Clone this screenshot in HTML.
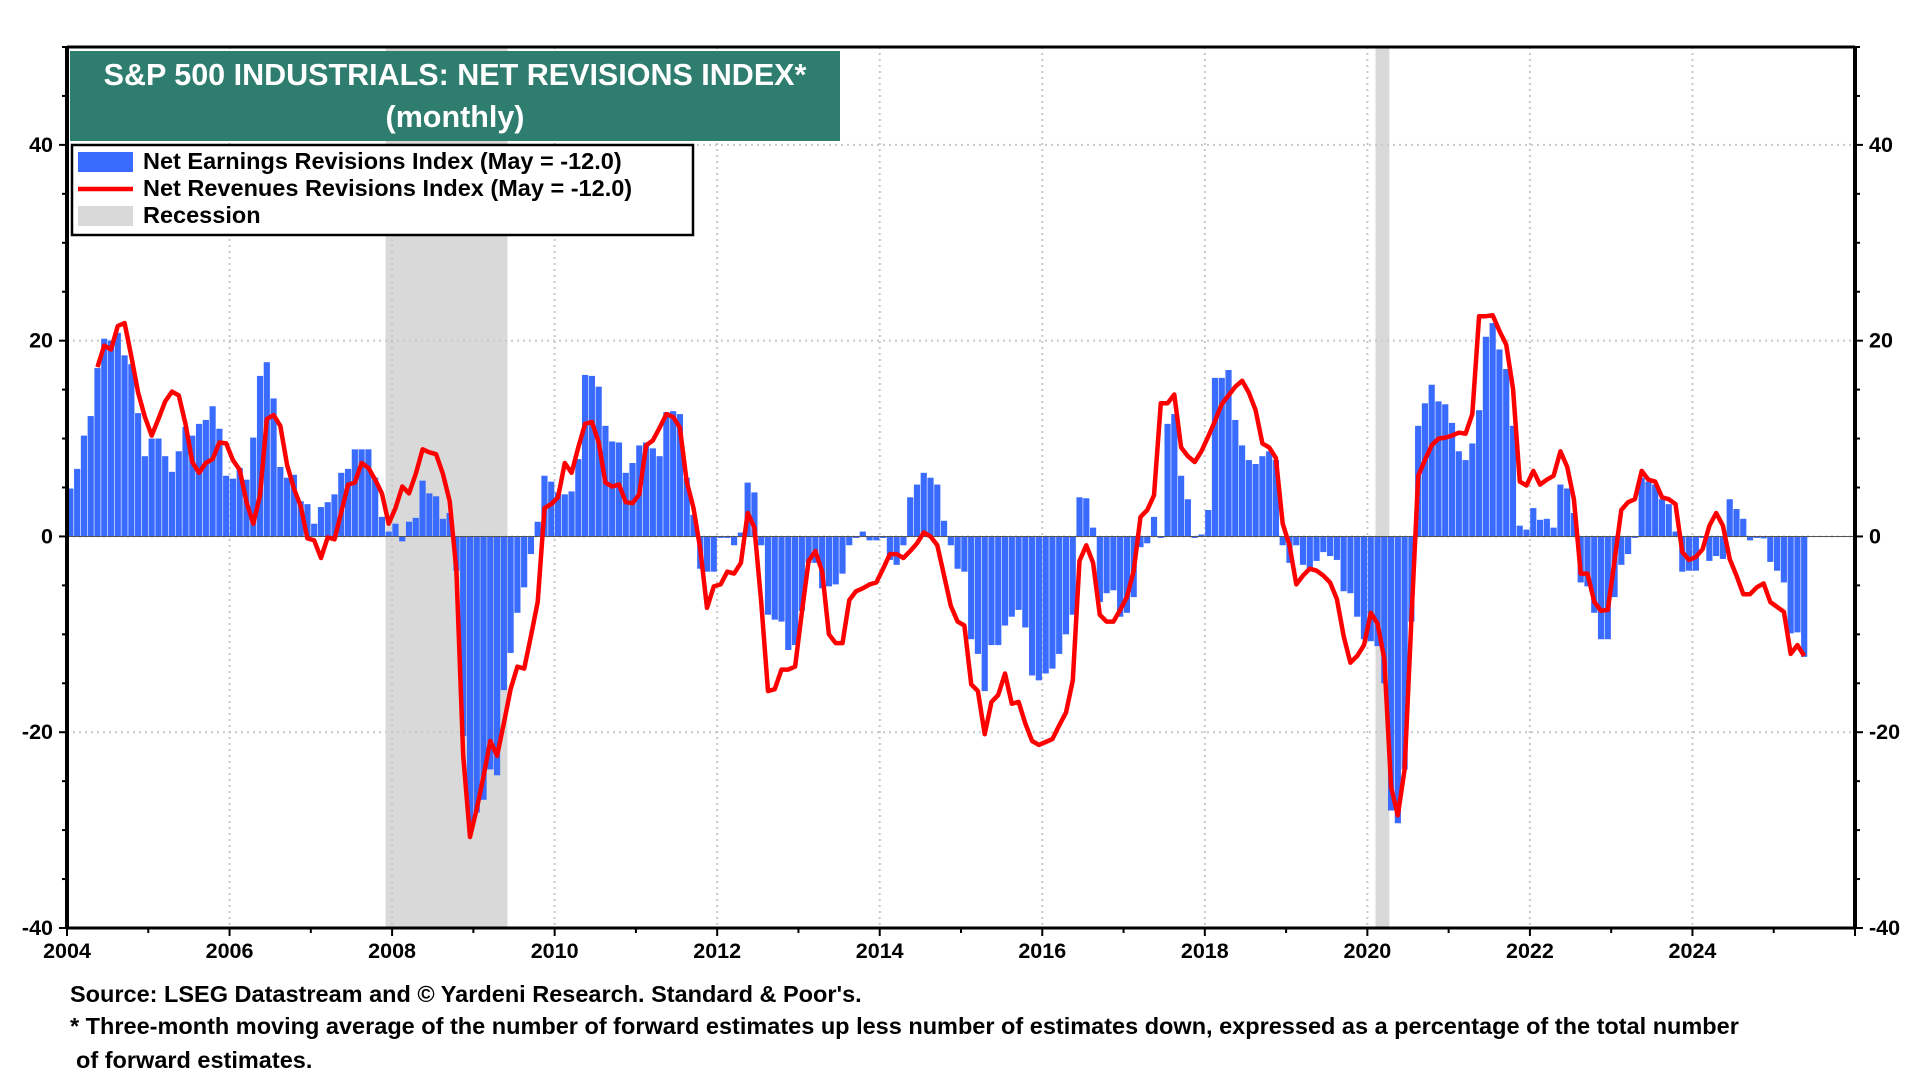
<!DOCTYPE html>
<html><head><meta charset="utf-8"><style>
html,body{margin:0;padding:0;background:#fff}
svg text{font-family:"Liberation Sans",Arial,sans-serif;font-weight:bold}
</style></head><body>
<svg id="chart" width="1920" height="1080" viewBox="0 0 1920 1080" xmlns="http://www.w3.org/2000/svg">
<g id="bg"></g><g id="grid"></g><g id="bars"></g><g id="lineg"></g><g id="axes"></g>
<g>
<rect x="70" y="51" width="770" height="90" fill="#2E7D6E"/>
<text x="455" y="85" fill="#fff" font-size="30.5" text-anchor="middle">S&amp;P 500 INDUSTRIALS: NET REVISIONS INDEX*</text>
<text x="455" y="127" fill="#fff" font-size="30.5" text-anchor="middle">(monthly)</text>
</g>
<g>
<rect x="72" y="145" width="621" height="90" fill="#fff" stroke="#000" stroke-width="2.5"/>
<g><rect x="78" y="152" width="55" height="20" fill="#3a6bff"/><text x="143" y="169" font-size="23.5">Net Earnings Revisions Index (May  = -12.0)</text></g>
<g><line x1="78" y1="189" x2="133" y2="189" stroke="#f00" stroke-width="4.5"/><text x="143" y="196" font-size="23.5">Net Revenues Revisions Index (May  = -12.0)</text></g>
<g><rect x="78" y="206" width="55" height="20" fill="#d9d9d9"/><text x="143" y="223" font-size="23.5">Recession</text></g>
</g>
<text x="70" y="1002" font-size="23.5">Source: LSEG Datastream and © Yardeni Research. Standard &amp; Poor's.</text>
<text x="70" y="1034" font-size="23.5">* Three-month moving average of the number of forward estimates up less number of estimates down, expressed as a percentage of the total number</text>
<text x="76" y="1068" font-size="23.5">of forward estimates.</text>
</svg>
<script>
const earnings = [
4.9,6.9,10.3,12.3,17.2,20.2,20,20.8,18.5,17.6,12.6,8.2,
10,10,8.2,6.6,8.7,11.2,10.3,11.5,11.9,13.3,11,6.2,
5.9,7,5.8,10.1,16.4,17.8,14.1,7.1,6,6.3,3.6,3.3,
1.3,3,3.5,4.3,6.5,6.9,8.9,8.9,8.9,6,2,0.5,
1.3,-0.5,1.5,1.9,5.7,4.4,4.1,1.8,2.4,-3.5,-20.4,-29.3,
-28.2,-26.9,-23.8,-24.4,-15.7,-11.9,-7.8,-5.2,-1.8,1.5,6.2,5.6,
4.5,4.3,4.6,7.9,16.5,16.4,15.3,11.3,9.7,9.6,6.5,7.5,
9.3,9.6,9,8.2,12.7,12.8,12.5,6,2.2,-3.3,-3.6,-3.6,
0,0,-0.9,0.4,5.5,4.5,-0.9,-8,-8.5,-8.7,-11.6,-11.1,
-7.6,-2.7,-2.7,-5.3,-5.1,-4.9,-3.8,-0.9,0,0.5,-0.4,-0.4,
0,-2.4,-2.9,-0.9,4,5.3,6.5,6,5.3,1.6,-0.9,-3.3,
-3.6,-10.5,-12,-15.8,-11.1,-11.1,-9.1,-8.2,-7.5,-9.3,-14.2,-14.7,
-14,-13.5,-12,-10,-8,4,3.9,0.9,-6.7,-5.8,-5.5,-8.2,
-7.8,-6.2,-1.1,-0.7,2,0,11.5,12.5,6.2,3.8,0,0.2,
2.7,16.2,16.2,17,11.9,9.3,7.8,7.4,8.2,8.7,7.8,-0.9,
-2.7,-0.9,-2.9,-3.3,-2.5,-1.6,-2,-2.4,-5.6,-5.8,-8.2,-10.5,
-10.7,-11.2,-15,-28,-29.3,-23.8,-8.7,11.3,13.6,15.5,13.8,13.5,
11.6,8.7,7.8,9.5,12.9,20.4,21.8,19.1,17.1,11.3,1.1,0.7,
2.9,1.7,1.8,0.9,5.3,4.9,2.4,-4.7,-5.1,-7.8,-10.5,-10.5,
-6.2,-2.9,-1.8,0,6,5.6,5.3,3.8,3.3,0.5,-3.6,-3.5,
-3.5,0,-2.5,-2,-2.3,3.8,2.8,1.8,-0.4,0,-0.2,-2.6,
-3.5,-4.7,-9.9,-9.8,-12.3];
const revenuesStartMonth = 4; // May 2004
const revenues = [
17.3,19.5,19.1,21.5,21.8,18.4,14.7,12.2,
10.3,12,13.8,14.8,14.4,11.5,7.6,6.5,7.5,7.9,9.6,9.5,
7.8,6.8,3.5,1.3,4.2,12,12.4,11.3,7.3,4.9,3.1,-0.2,
-0.4,-2.2,-0.1,-0.3,2.5,5.3,5.5,7.5,7,5.8,4.4,1.3,
2.9,5.1,4.4,6.4,8.9,8.6,8.4,6.4,3.6,-3.5,-22.4,-30.7,
-27.8,-24.5,-20.9,-22.4,-19.1,-15.6,-13.3,-13.5,-10.2,-6.7,2.9,3.3,
4,7.5,6.5,9.1,11.5,11.7,9.6,5.5,5.1,5.3,3.5,3.4,
4.3,9.3,9.8,11.1,12.5,12.2,11.1,5.6,2.9,-1.3,-7.3,-5.1,
-4.9,-3.6,-3.8,-2.7,2.4,0.9,-6.7,-15.8,-15.6,-13.6,-13.6,-13.3,
-7.8,-2.5,-1.5,-3.6,-10,-10.9,-10.9,-6.5,-5.6,-5.3,-4.9,-4.7,
-3.3,-1.8,-1.8,-2.2,-1.5,-0.7,0.4,0,-0.9,-4,-7.1,-8.7,
-9.1,-15.1,-15.8,-20.2,-16.9,-16.2,-14,-17.1,-16.9,-19.1,-20.9,-21.3,
-21,-20.7,-19.3,-18,-14.7,-2.5,-0.9,-2.7,-8,-8.7,-8.7,-7.5,
-6.2,-3.5,2,2.7,4.2,13.6,13.6,14.5,9.1,8.2,7.6,8.7,
10.2,11.8,13.5,14.4,15.3,15.9,14.7,12.9,9.5,9.1,8,1.3,
-0.9,-4.9,-4,-3.3,-3.5,-4,-4.7,-6.4,-10.2,-12.9,-12.2,-11.1,
-7.8,-8.9,-12.5,-25.6,-28.5,-23.8,-8.5,6.2,7.8,9.3,10,10.1,
10.3,10.6,10.5,12.5,22.5,22.5,22.6,21,19.6,15.1,5.6,5.2,
6.7,5.3,5.8,6.2,8.7,7.1,3.8,-3.8,-3.8,-6.7,-7.6,-7.5,
-2.4,2.7,3.5,3.8,6.7,5.8,5.6,4,3.8,3.3,-1.6,-2.4,
-2.1,-1.3,1.1,2.4,1.1,-2.3,-4,-5.9,-5.9,-5.2,-4.8,-6.7,
-7.2,-7.7,-12,-11.1,-12.2];
const recessions = [[2007.92,2009.42],[2020.1,2020.27]];
const yTicks = [-40,-20,0,20,40];
const xTicks = [2004,2006,2008,2010,2012,2014,2016,2018,2020,2022,2024];

const L=67,R=1855,T=47,B=928,X0=2004,X1=2026,Y0=-40,Y1=50;
const NS="http://www.w3.org/2000/svg";
const xs=v=>L+(v-X0)/(X1-X0)*(R-L);
const ys=v=>B-(v-Y0)/(Y1-Y0)*(B-T);
const mx=i=>xs(X0+(i+0.5)/12);
function mk(tag,attrs,parent){const e=document.createElementNS(NS,tag);for(const k in attrs)e.setAttribute(k,attrs[k]);parent.appendChild(e);return e;}
const bg=document.getElementById('bg'),grid=document.getElementById('grid'),bars=document.getElementById('bars'),lg=document.getElementById('lineg'),ax=document.getElementById('axes');
recessions.forEach(r=>{const e=mk('rect',{x:xs(r[0]),y:T,width:xs(r[1])-xs(r[0]),height:B-T,fill:'#d9d9d9'},bg);

});
yTicks.forEach(v=>{if(v===Y0)return;const e=mk('line',{x1:L,x2:R,y1:ys(v),y2:ys(v),stroke:'#c8c8c8','stroke-width':2,'stroke-dasharray':'2,4'},grid);

});
xTicks.forEach(v=>{if(v===X0)return;const e=mk('line',{x1:xs(v),x2:xs(v),y1:T,y2:B,stroke:'#c8c8c8','stroke-width':2,'stroke-dasharray':'2,4'},grid);

});
const bw=(R-L)/(X1-X0)/12;
earnings.forEach((v,i)=>{const y=Math.min(ys(v),ys(0));const h=Math.max(Math.abs(ys(v)-ys(0)),1.5);
const e=mk('rect',{x:mx(i)-bw/2+0.3,y:y,width:bw-0.6,height:h,fill:'#3a6bff'},bars);

});
const z=mk('line',{x1:L,x2:R,y1:ys(0),y2:ys(0),stroke:'#555','stroke-width':1},bars);


const pts=revenues.map((v,i)=>mx(i+revenuesStartMonth).toFixed(1)+','+ys(v).toFixed(1)).join(' ');
const pl=mk('polyline',{points:pts,fill:'none',stroke:'#ff0000','stroke-width':4.5,'stroke-linejoin':'round'},lg);


mk('line',{x1:L,x2:R,y1:T,y2:T,stroke:'#000','stroke-width':3},ax);
mk('line',{x1:L,x2:R,y1:B,y2:B,stroke:'#000','stroke-width':3},ax);
mk('line',{x1:L,x2:L,y1:T,y2:B,stroke:'#000','stroke-width':4},ax);
mk('line',{x1:R,x2:R,y1:T,y2:B,stroke:'#000','stroke-width':4},ax);
for(let v=Y0;v<=Y1;v+=5){const big=v%20===0;
mk('line',{x1:L-(big?8:5),x2:L,y1:ys(v),y2:ys(v),stroke:'#000','stroke-width':2},ax);
mk('line',{x1:R,x2:R+(big?8:5),y1:ys(v),y2:ys(v),stroke:'#000','stroke-width':2},ax);}
yTicks.forEach(v=>{
const a=mk('text',{x:L-14,y:ys(v)+7,'font-size':21.5,'text-anchor':'end'},ax);a.textContent=v;


const b=mk('text',{x:R+14,y:ys(v)+7,'font-size':21.5},ax);b.textContent=v;

});
for(let yr=X0;yr<=X1;yr++){mk('line',{x1:xs(yr),x2:xs(yr),y1:B,y2:B+(yr%2===0?8:5),stroke:'#000','stroke-width':2},ax);}
xTicks.forEach(v=>{const t=mk('text',{x:xs(v),y:B+30,'font-size':21.5,'text-anchor':'middle'},ax);t.textContent=v;

});
</script>
</body></html>
